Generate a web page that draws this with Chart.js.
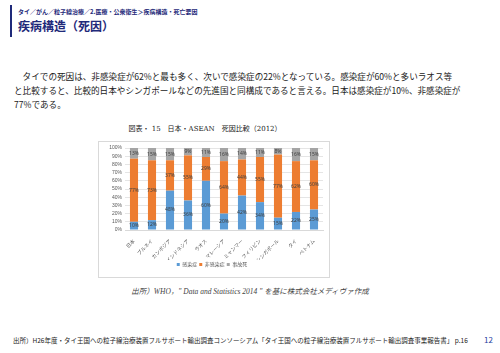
<!DOCTYPE html>
<html><head><meta charset="utf-8">
<script src="https://cdn.jsdelivr.net/npm/chart.js@4.4.1/dist/chart.umd.min.js"></script>
<style>
html,body{margin:0;padding:0;background:#fff;}
body{width:500px;height:353px;position:relative;overflow:hidden;font-family:"Noto Sans CJK JP","Noto Sans",sans-serif;}
.bar{position:absolute;left:10px;top:5px;width:2px;height:32px;background:#1f2a7a;}
.crumb{position:absolute;left:18px;top:7px;font-size:6px;color:#1f2a7a;white-space:nowrap;font-weight:bold;}
.ttl{position:absolute;left:18px;top:17px;font-size:12px;color:#1f2a7a;font-weight:bold;white-space:nowrap;}
.para{position:absolute;left:14px;top:69px;width:480px;font-size:8.6px;line-height:14px;color:#222;}
.para p{margin:0;white-space:nowrap;}
.ctitle{position:absolute;left:0;width:410px;text-align:center;top:123px;font-size:7px;color:#222;font-family:"DejaVu Serif","Noto Sans CJK JP",serif;white-space:nowrap;}
.box{position:absolute;left:98px;top:141px;width:232px;height:137px;border:1px solid #d9d9d9;box-sizing:border-box;}
.src{position:absolute;left:0;width:500px;text-align:center;top:285px;font-size:7.5px;color:#444;font-style:italic;font-family:"Liberation Serif","Noto Sans CJK JP",serif;white-space:nowrap;}
.foot{position:absolute;left:13px;top:335px;font-size:6.5px;color:#222;white-space:nowrap;}
.pg{position:absolute;left:484px;top:334px;font-size:8px;color:#1f3fa0;}
</style></head>
<body>
<div class="bar"></div>
<div class="crumb">タイ／がん／粒子線治療／2.医療・公衆衛生＞疾病構造・死亡要因</div>
<div class="ttl">疾病構造（死因）</div>
<div class="para">
<p>　タイでの死因は、非感染症が62%と最も多く、次いで感染症の22%となっている。感染症が60%と多いラオス等</p>
<p>と比較すると、比較的日本やシンガポールなどの先進国と同構成であると言える。日本は感染症が10%、非感染症が</p>
<p>77%である。</p>
</div>
<div class="ctitle">図表・ 15　日本・ASEAN　死因比較（2012）</div>
<div class="box"><canvas id="c" width="230" height="135"></canvas></div>
<div class="src">出所）WHO，" Data and Statistics 2014 " を基に株式会社メディヴァ作成</div>
<div class="foot">出所）H26年度・タイ王国への粒子線治療装置フルサポート輸出調査コンソーシアム「タイ王国への粒子線治療装置フルサポート輸出調査事業報告書」 p.16</div>
<div class="pg">12</div>
<script>
const categories = ["日本","ブルネイ","カンボジア","インドネシア","ラオス","マレーシア","ミャンマー","フィリピン","シンガポール","タイ","ベトナム"];
const infectious = [10,12,48,36,60,20,42,34,15,22,25];
const nonInfectious = [77,73,37,55,29,64,44,55,77,62,60];
const injury = [13,15,15,9,11,16,14,11,8,16,15];
const seriesNames = ["感染症","非感染症","事故死"];
const yTicks = ["0%","10%","20%","30%","40%","50%","60%","70%","80%","90%","100%"];

const labelPlugin = {
  id:'barLabels',
  afterDatasetsDraw(chart){
    const ctx = chart.ctx;
    ctx.save();
    ctx.font = '5px "Noto Sans", sans-serif';
    ctx.fillStyle = '#404040';
    ctx.textAlign = 'center';
    ctx.textBaseline = 'middle';
    chart.data.datasets.forEach((ds,i)=>{
      const meta = chart.getDatasetMeta(i);
      meta.data.forEach((el,j)=>{
        const p = el.getProps(['x','y','base'],true);
        ctx.fillText(ds.data[j]+'%', p.x, (p.y+p.base)/2);
      });
    });
    ctx.restore();
  }
};

new Chart(document.getElementById('c'),{
  type:'bar',
  data:{
    labels:categories,
    datasets:[
      {label:seriesNames[0],data:infectious,backgroundColor:'#5B9BD5'},
      {label:seriesNames[1],data:nonInfectious,backgroundColor:'#ED7D31'},
      {label:seriesNames[2],data:injury,backgroundColor:'#A5A5A5'}
    ]
  },
  options:{
    responsive:false,
    animation:false,
    devicePixelRatio:1,
    layout:{padding:{top:4,right:6,left:2,bottom:0}},
    datasets:{bar:{barPercentage:0.45,categoryPercentage:1}},
    plugins:{
      legend:{position:'bottom',labels:{boxWidth:3,boxHeight:3,padding:2,color:'#595959',font:{size:5,family:'"Noto Sans CJK JP"'}}},
      tooltip:{enabled:false}
    },
    scales:{
      x:{stacked:true,grid:{display:false},border:{color:'#d9d9d9'},
         afterFit(s){s.height=30;},
         ticks:{minRotation:45,maxRotation:45,autoSkip:false,color:'#595959',font:{size:5,family:'"Noto Sans CJK JP"'},padding:0}},
      y:{stacked:true,min:0,max:100,
         grid:{color:'#e5e5e5',drawTicks:false},border:{display:false},
         afterFit(s){s.width=24;},
         ticks:{stepSize:10,autoSkip:false,padding:3,color:'#595959',font:{size:5},callback:(v,i)=>yTicks[i]}}
    }
  },
  plugins:[labelPlugin]
});
</script>
</body></html>
